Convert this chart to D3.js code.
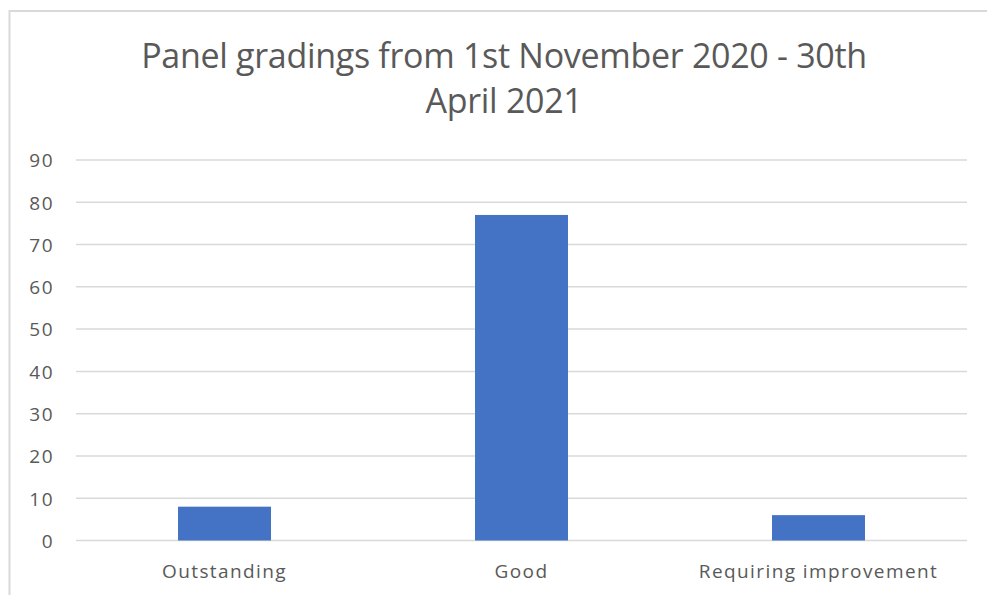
<!DOCTYPE html>
<html>
<head>
<meta charset="utf-8">
<script src="https://cdn.jsdelivr.net/npm/d3@7"></script>
<style>
  html, body { margin: 0; padding: 0; background: #fff; }
  svg { display: block; }
</style>
</head>
<body>
<svg width="987" height="595"></svg>
<script>
// chart data
var categories = ["Outstanding", "Good", "Requiring improvement"];
var counts = [8, 77, 6];
var yTicks = [0, 10, 20, 30, 40, 50, 60, 70, 80, 90];
var titleLines = ["Panel gradings from 1st November 2020 - 30th", "April 2021"];

var svg = d3.select("svg"),
	width = 987,
	height = 595,
	margin = { top: 160, right: 20, bottom: 55, left: 76 };

var textColor = "#595959",
	gridColor = "#d9d9d9",
	barColor = "#4472C4";

// outer chart border (only left and top show in the crop)
svg.append("path")
	.attr("d", "M9.5,595 V11 H987")
	.attr("fill", "none")
	.attr("stroke", gridColor)
	.attr("stroke-width", 2);

var x = d3.scaleBand()
	.domain(categories)
	.range([margin.left, 967])
	.padding(0);

var y = d3.scaleLinear()
	.domain([0, 90])
	.range([540.5, margin.top]);

// gridlines
svg.append("g")
	.selectAll("line")
	.data(yTicks)
	.enter()
	.append("line")
	.attr("x1", margin.left)
	.attr("x2", 967)
	.attr("y1", d => y(d))
	.attr("y2", d => y(d))
	.attr("stroke", gridColor)
	.attr("stroke-width", 1.5);

// y tick labels
var yAxis = svg.append("g")
	.attr("transform", "translate(" + (margin.left - 22) + ",0)")
	.call(d3.axisLeft(y).tickValues(yTicks).tickSize(0).tickPadding(0));
yAxis.select(".domain").remove();
yAxis.selectAll("text")
	.attr("fill", textColor)
	.attr("dy", "0.36em")
	.style("font-family", "'Open Sans', sans-serif")
	.style("font-size", "19px")
	.style("letter-spacing", "1.5px");

// bars
var barFrac = 0.313;
svg.append("g")
	.selectAll("rect")
	.data(categories)
	.enter()
	.append("rect")
	.attr("x", d => x(d) + x.bandwidth() * (1 - barFrac) / 2)
	.attr("width", x.bandwidth() * barFrac)
	.attr("y", (d, i) => y(counts[i]))
	.attr("height", (d, i) => y(0) - y(counts[i]))
	.attr("fill", barColor);

// category labels
var xAxis = svg.append("g")
	.attr("transform", "translate(0," + y(0) + ")")
	.call(d3.axisBottom(x).tickSize(0).tickPadding(0));
xAxis.select(".domain").remove();
xAxis.selectAll("text")
	.attr("y", 37)
	.attr("dy", 0)
	.attr("fill", textColor)
	.style("font-family", "'Open Sans', sans-serif")
	.style("font-size", "19px")
	.style("letter-spacing", "1.4px");

// title
svg.append("g")
	.selectAll("text")
	.data(titleLines)
	.enter()
	.append("text")
	.attr("x", 504)
	.attr("y", (d, i) => 68 + i * 45)
	.attr("text-anchor", "middle")
	.attr("fill", textColor)
	.style("font-family", "'Open Sans', sans-serif")
	.style("font-size", "34px")
	.style("letter-spacing", "-0.3px")
	.text(d => d);
</script>
</body>
</html>
